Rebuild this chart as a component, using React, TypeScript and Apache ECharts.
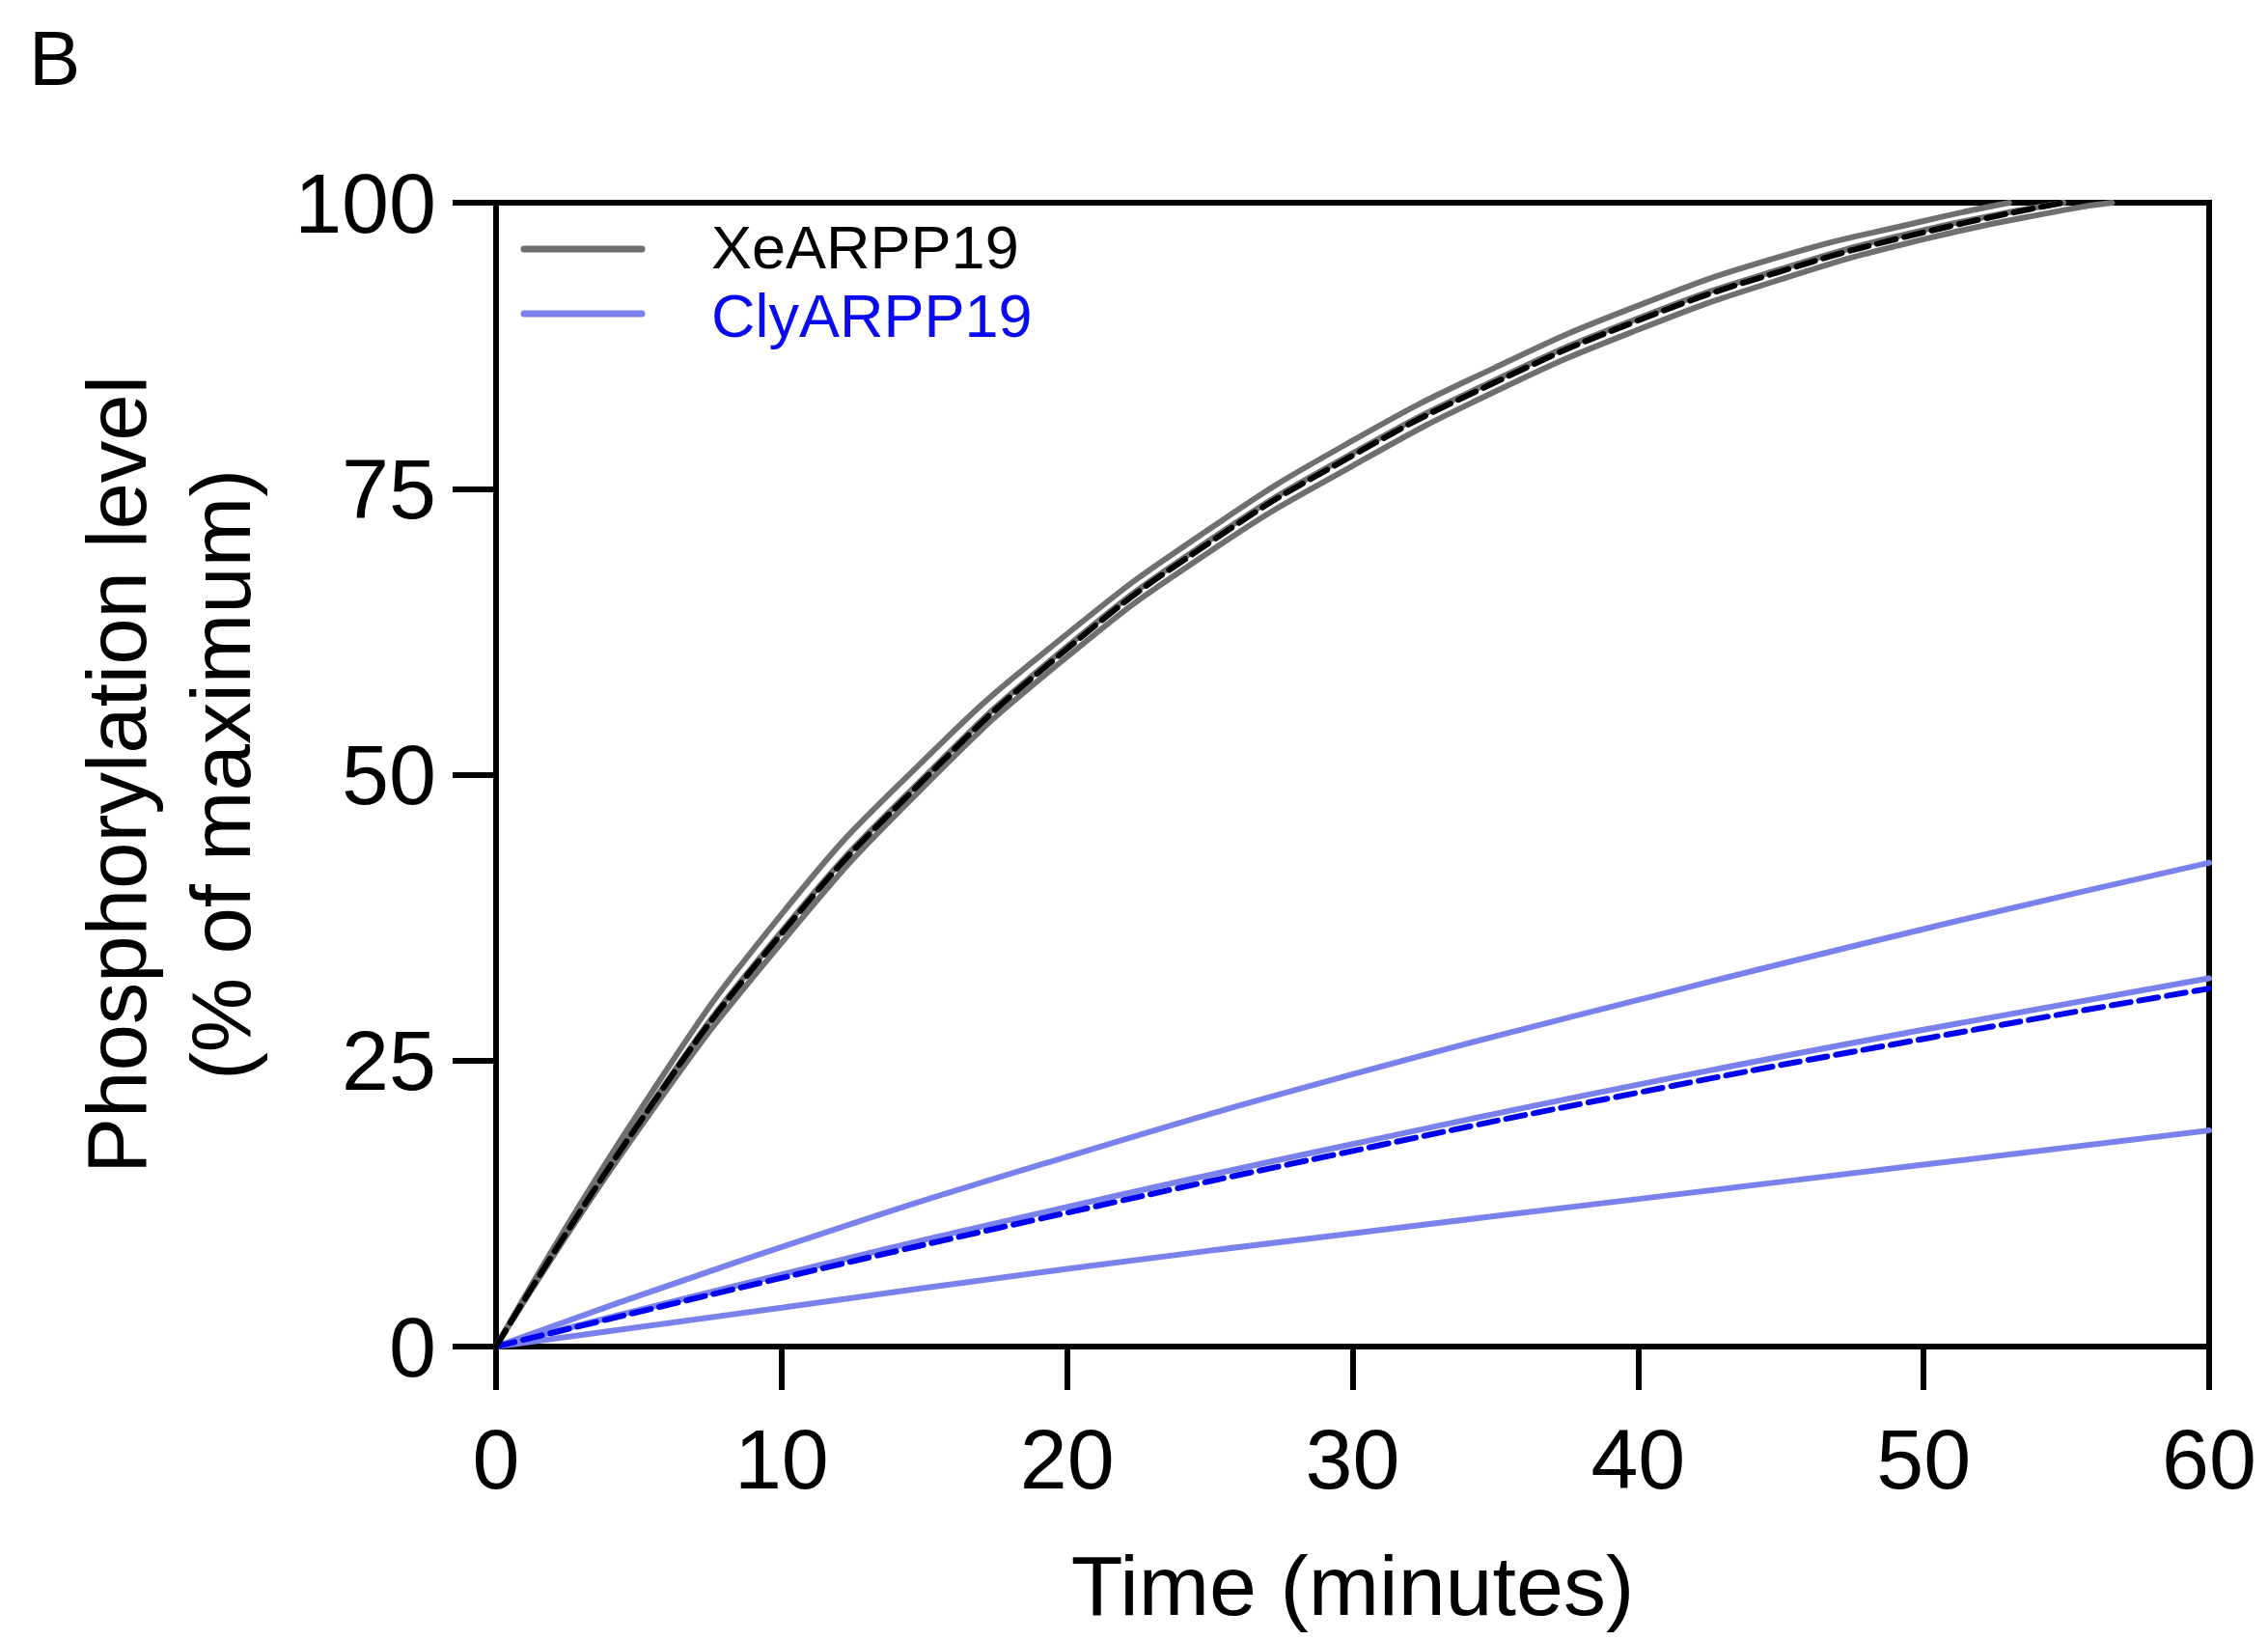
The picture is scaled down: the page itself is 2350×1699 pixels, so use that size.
import React, { useEffect, useRef } from "react";
import * as echarts from "echarts";

// ---- Data ----
const X_TICKS_MAX = 60;
const Y_TICKS_MAX = 100;

// XeARPP19: three replicate curves (grey) and the fitted curve (black dashed)
const XE_UPPER_T = [0, 5, 10, 15, 20, 25, 30, 35, 40, 45, 50, 53];
const XE_UPPER_V = [0, 20.5, 37.8, 51.3, 62.3, 71.5, 79.2, 85.6, 91.0, 95.3, 98.4, 100];
const XE_MID_T = [0, 5, 10, 15, 20, 25, 30, 35, 40, 45, 50, 54.9];
const XE_MID_V = [0, 19.6, 36.3, 49.8, 61.2, 70.5, 78.1, 84.5, 89.9, 94.2, 97.6, 100];
const XE_LOWER_T = [0, 5, 10, 15, 20, 25, 30, 35, 40, 45, 50, 55, 56.6];
const XE_LOWER_V = [0, 19.0, 35.3, 49.0, 60.3, 69.5, 77.0, 83.5, 88.9, 93.3, 96.8, 99.4, 100];
const XE_FIT_T = [0, 5, 10, 15, 20, 25, 30, 35, 40, 45, 50, 54.9];
const XE_FIT_V = [0, 19.5, 36.1, 49.6, 61.0, 70.3, 77.9, 84.3, 89.7, 94.0, 97.4, 100];

// ClyARPP19: three replicate curves (light blue) and the fitted curve (blue dashed)
const CLY_T = [0, 10, 20, 30, 40, 50, 60];
const CLY_UPPER_V = [0, 8.7, 16.6, 23.8, 30.3, 36.5, 42.3];
const CLY_MID_V = [0, 6.3, 12.2, 17.7, 22.9, 27.7, 32.2];
const CLY_LOWER_V = [0, 3.4, 6.8, 9.9, 12.9, 15.9, 18.9];
const CLY_FIT_V = [0, 6.0, 11.7, 17.1, 22.2, 26.9, 31.3];

const LEGEND_NAMES = ["XeARPP19", "ClyARPP19"];

const GREY = "#6f6f6f";
const LIGHT_BLUE = "#7a80ec";
const BLUE = "#0000f0";
const FONT = "'Liberation Sans', Arial, Helvetica, sans-serif";

const pairs = (t: number[], v: number[]) => t.map((x, i) => [x, v[i]]);

export default function App() {
  const ref = useRef<HTMLDivElement>(null);

  useEffect(() => {
    document.body.style.margin = "0";
    const chart = echarts.init(ref.current!, null, { renderer: "svg" });

    const solid = (name: string, t: number[], v: number[], color: string) => ({
      name,
      type: "line",
      data: pairs(t, v),
      smooth: 0.5,
      showSymbol: false,
      symbol: "none",
      lineStyle: { color, width: 6, cap: "round" },
      itemStyle: { color },
      z: 2,
    });
    const dashed = (name: string, t: number[], v: number[], color: string) => ({
      name,
      type: "line",
      data: pairs(t, v),
      smooth: 0.5,
      showSymbol: false,
      symbol: "none",
      lineStyle: { color, width: 6, type: [20, 9], cap: "round" },
      itemStyle: { color },
      z: 3,
    });

    const option: any = {
      animation: false,
      backgroundColor: "#ffffff",
      grid: {
        left: 514,
        top: 210,
        width: 1775,
        height: 1185,
        show: true,
        borderColor: "#000",
        borderWidth: 6,
        backgroundColor: "transparent",
      },
      xAxis: {
        type: "value",
        min: 0,
        max: X_TICKS_MAX,
        interval: 10,
        name: "Time (minutes)",
        nameLocation: "middle",
        nameGap: 203,
        nameTextStyle: { fontSize: 88, color: "#000", fontFamily: FONT },
        axisLine: { show: true, lineStyle: { color: "#000", width: 6 } },
        axisTick: { show: true, length: 45, lineStyle: { color: "#000", width: 6 } },
        axisLabel: { fontSize: 88, color: "#000", fontFamily: FONT, margin: 72 },
        splitLine: { show: false },
      },
      yAxis: {
        type: "value",
        min: 0,
        max: Y_TICKS_MAX,
        interval: 25,
        name: "Phosphorylation level\n(% of maximum)",
        nameLocation: "middle",
        nameRotate: 90,
        nameGap: 232,
        nameTextStyle: {
          fontSize: 87,
          lineHeight: 108,
          color: "#000",
          fontFamily: FONT,
          align: "center",
        },
        axisLine: { show: true, lineStyle: { color: "#000", width: 6 } },
        axisTick: { show: true, length: 45, lineStyle: { color: "#000", width: 6 } },
        axisLabel: { fontSize: 88, color: "#000", fontFamily: FONT, margin: 62 },
        splitLine: { show: false },
      },
      series: [
        solid(LEGEND_NAMES[1], CLY_T, CLY_UPPER_V, LIGHT_BLUE),
        solid("Cly replicate 2", CLY_T, CLY_MID_V, LIGHT_BLUE),
        solid("Cly replicate 3", CLY_T, CLY_LOWER_V, LIGHT_BLUE),
        dashed("Cly fit", CLY_T, CLY_FIT_V, BLUE),
        solid(LEGEND_NAMES[0], XE_UPPER_T, XE_UPPER_V, GREY),
        solid("Xe replicate 2", XE_MID_T, XE_MID_V, GREY),
        solid("Xe replicate 3", XE_LOWER_T, XE_LOWER_V, GREY),
        dashed("Xe fit", XE_FIT_T, XE_FIT_V, "#000"),
      ],
      graphic: [
        {
          type: "text",
          left: 30,
          top: 20,
          style: { text: "B", fontSize: 80, fill: "#000", fontFamily: FONT },
        },
        {
          type: "line",
          shape: { x1: 543, y1: 258, x2: 665, y2: 258 },
          style: { stroke: GREY, lineWidth: 7, lineCap: "round" },
        },
        {
          type: "line",
          shape: { x1: 543, y1: 325, x2: 665, y2: 325 },
          style: { stroke: LIGHT_BLUE, lineWidth: 7, lineCap: "round" },
        },
        {
          type: "text",
          x: 737,
          y: 256,
          style: {
            text: LEGEND_NAMES[0],
            fontSize: 63,
            fill: "#000",
            fontFamily: FONT,
            verticalAlign: "middle",
          },
        },
        {
          type: "text",
          x: 737,
          y: 327,
          style: {
            text: LEGEND_NAMES[1],
            fontSize: 63,
            fill: "#0a0aee",
            fontFamily: FONT,
            verticalAlign: "middle",
          },
        },
      ],
    };

    chart.setOption(option);
    return () => chart.dispose();
  }, []);

  return <div ref={ref} style={{ width: 2350, height: 1699 }} />;
}
